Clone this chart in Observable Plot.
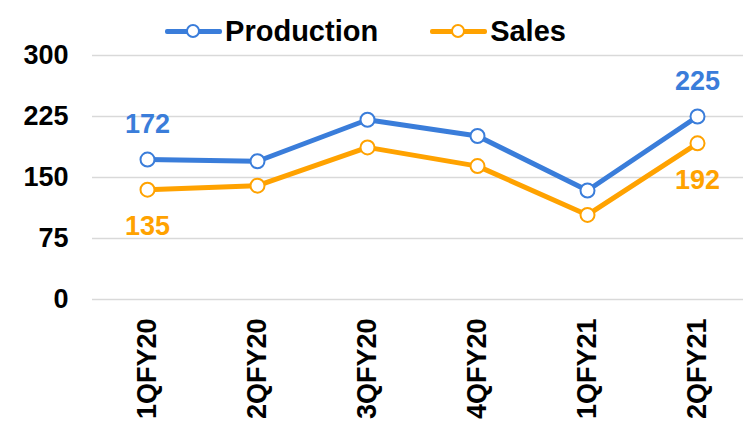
<!DOCTYPE html>
<html>
<head>
<meta charset="utf-8">
<script src="https://cdn.jsdelivr.net/npm/d3@7"></script>
<script src="https://cdn.jsdelivr.net/npm/@observablehq/plot@0.6"></script>
<style>
  html, body { margin: 0; padding: 0; background: #fff; }
  body { width: 743px; height: 430px; overflow: hidden; position: relative; font-family: "Liberation Sans", Arial, sans-serif; }
  #legend { position: absolute; left: 0; top: 14px; width: 743px; height: 34px; display: flex; align-items: center; justify-content: center; gap: 52px; font-weight: bold; font-size: 29px; color: #000; padding-right: 12px; box-sizing: border-box; }
  .item { display: flex; align-items: center; gap: 3px; }
  .swatch { position: relative; width: 57px; height: 16px; }
  .swatch .ln { position: absolute; left: 0; right: 0; top: 5.5px; height: 5px; border-radius: 2px; }
  .swatch .ci { position: absolute; left: 21px; top: 1px; width: 10px; height: 10px; border-radius: 50%; background: #fff; border: 2px solid; }
  #chart svg { display: block; }
</style>
</head>
<body>
<div id="chart"></div>
<div id="legend"></div>
<script>
const quarters = ["1QFY20", "2QFY20", "3QFY20", "4QFY20", "1QFY21", "2QFY21"];
const production = [172, 170, 221, 201, 134, 225];
const sales = [135, 140, 187, 164, 104, 192];
const yTicks = [0, 75, 150, 225, 300];
const seriesNames = ["Production", "Sales"];
const seriesColors = ["#3A7DDA", "#FFA200"];

const rows = [];
quarters.forEach((q, i) => {
  rows.push({q, series: "Production", v: production[i]});
  rows.push({q, series: "Sales", v: sales[i]});
});
const prodRows = rows.filter(d => d.series === "Production");
const salesRows = rows.filter(d => d.series === "Sales");
const labelIdx = [0, quarters.length - 1];
const prodLabels = prodRows.filter((d, i) => labelIdx.includes(i));
const salesLabels = salesRows.filter((d, i) => labelIdx.includes(i));

// legend
const legend = document.getElementById("legend");
seriesNames.forEach((name, i) => {
  const it = document.createElement("div");
  it.className = "item";
  it.innerHTML = `<div class="swatch"><div class="ln" style="background:${seriesColors[i]}"></div><div class="ci" style="border-color:${seriesColors[i]}"></div></div><span>${name}</span>`;
  legend.appendChild(it);
});

const font = '"Liberation Sans", Arial, sans-serif';
const chart = Plot.plot({
  width: 743,
  height: 430,
  marginTop: 55,
  marginBottom: 131,
  marginLeft: 92,
  marginRight: 0,
  style: {fontFamily: font, fontSize: "27px", fontWeight: "bold", color: "#000", background: "#fff"},
  x: {type: "point", domain: quarters, range: [147, 697], padding: 0, label: null, tickRotate: -90, tickSize: 0, tickPadding: 19},
  y: {domain: [0, 300], ticks: yTicks, label: null, tickSize: 0, tickPadding: 24},
  marks: [
    Plot.ruleY(yTicks, {stroke: "#d9d9d9", strokeWidth: 1.5}),
    Plot.line(salesRows, {x: "q", y: "v", stroke: seriesColors[1], strokeWidth: 5}),
    Plot.line(prodRows, {x: "q", y: "v", stroke: seriesColors[0], strokeWidth: 5}),
    Plot.dot(salesRows, {x: "q", y: "v", r: 7, fill: "#fff", stroke: seriesColors[1], strokeWidth: 2}),
    Plot.dot(prodRows, {x: "q", y: "v", r: 7, fill: "#fff", stroke: seriesColors[0], strokeWidth: 2}),
    Plot.text(prodLabels, {x: "q", y: "v", text: d => String(d.v), dy: -35, fill: seriesColors[0], fontSize: 27, fontWeight: "bold"}),
    Plot.text(salesLabels, {x: "q", y: "v", text: d => String(d.v), dy: 37, fill: seriesColors[1], fontSize: 27, fontWeight: "bold"})
  ]
});
document.getElementById("chart").appendChild(chart);
</script>
</body>
</html>
